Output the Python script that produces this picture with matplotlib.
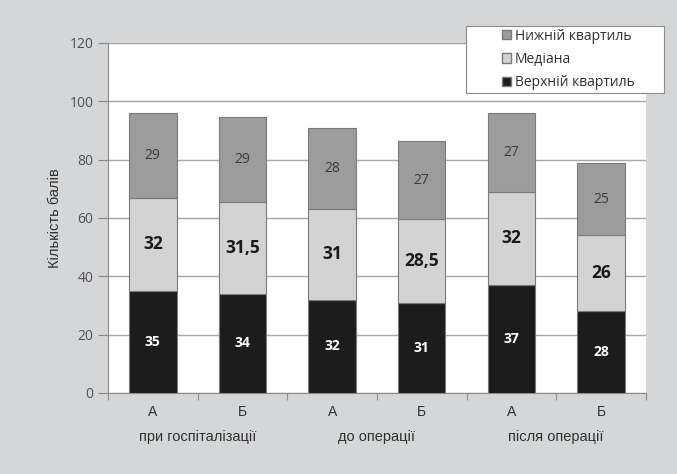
import numpy as np
import matplotlib
matplotlib.use('Agg')
import matplotlib.pyplot as plt
from matplotlib.patches import Patch, Rectangle

groups = ['при госпіталізації', 'до операції', 'після операції']
subgroups = ['А', 'Б', 'А', 'Б', 'А', 'Б']
upper_q = [35, 34, 32, 31, 37, 28]
median = [32, 31.5, 31, 28.5, 32, 26]
lower_q = [29, 29, 28, 27, 27, 25]
series_names = ['Верхній квартиль', 'Медіана', 'Нижній квартиль']

def fmt(v):
    s = ('%g' % v).replace('.', ',')
    return s

bg = '#d5d6d8'
fig = plt.figure(figsize=(6.77, 4.74), dpi=100, facecolor=bg)
ax = fig.add_axes([0.1595, 0.1709, 0.954 - 0.1595, 0.9093 - 0.1709])
ax.set_facecolor('white')

x = np.arange(len(subgroups))
w = 0.53
ec = '#7a7a7a'
b1 = ax.bar(x, upper_q, w, color='#1c1c1c', edgecolor=ec, linewidth=0.8, zorder=3)
b2 = ax.bar(x, median, w, bottom=upper_q, color='#d3d3d3', edgecolor=ec, linewidth=0.8, zorder=3)
bot3 = np.array(upper_q) + np.array(median)
b3 = ax.bar(x, lower_q, w, bottom=bot3, color='#9c9c9c', edgecolor=ec, linewidth=0.8, zorder=3)

num_font = 'Open Sans'
for i in range(len(x)):
    ax.text(x[i], upper_q[i] / 2, fmt(upper_q[i]), ha='center', va='center',
            color='white', fontsize=10, fontweight='bold', family=num_font, zorder=4)
    ax.text(x[i], upper_q[i] + median[i] / 2, fmt(median[i]), ha='center', va='center',
            color='#1a1a1a', fontsize=12.5, fontweight='bold', family=num_font, zorder=4)
    ax.text(x[i], bot3[i] + lower_q[i] / 2, fmt(lower_q[i]), ha='center', va='center',
            color='#3a3a3a', fontsize=10, family=num_font, zorder=4)

ax.set_xlim(-0.5, len(x) - 0.5)
ax.set_ylim(0, 120)
ax.set_yticks(np.arange(0, 121, 20))
ax.yaxis.grid(True, color='#a8a8a8', linewidth=1.0, zorder=0)
ax.set_axisbelow(True)
for lab in ax.get_yticklabels():
    lab.set_family(num_font)
ax.tick_params(axis='y', colors='#8a8a8a', labelcolor='#505050', labelsize=10, length=7, width=0.8)

ax.set_xticks(x)
ax.set_xticklabels(subgroups, family='Liberation Sans', fontsize=10, color='#303030')
ax.set_xticks(np.arange(-0.5, len(x), 1), minor=True)
ax.tick_params(axis='x', which='major', length=0, pad=9)
ax.tick_params(axis='x', which='minor', length=5, color='#8a8a8a', width=0.8)

for i, g in enumerate(groups):
    ax.text(2 * i + 0.5, -0.127, g, transform=ax.get_xaxis_transform(), ha='center', va='center',
            family='Liberation Sans', fontsize=10.5, color='#303030')

for s in ['top', 'right']:
    ax.spines[s].set_visible(False)
ax.spines['left'].set_color('#8a8a8a')
ax.spines['bottom'].set_color('#8a8a8a')

ax.set_ylabel('Кількість балів', family='Liberation Sans', fontsize=10.5, color='#303030', labelpad=5)

# legend box
bx0, by0, bw, bh = 466 / 677, 1 - 93 / 474, 198 / 677, 67 / 474
fig.patches.append(Rectangle((bx0, by0), bw, bh, transform=fig.transFigure,
                             facecolor='white', edgecolor='#8a8a8a', linewidth=0.8, zorder=5))
handles = [Patch(facecolor='#9c9c9c', edgecolor=ec, label=series_names[2]),
           Patch(facecolor='#d3d3d3', edgecolor=ec, label=series_names[1]),
           Patch(facecolor='#1c1c1c', edgecolor=ec, label=series_names[0])]
leg = fig.legend(handles=handles, loc='center', bbox_to_anchor=(bx0 + bw / 2 + 0.005, by0 + bh / 2),
                 frameon=False, prop={'family': num_font, 'size': 10},
                 handlelength=0.65, handleheight=0.65, handletextpad=0.3, borderpad=0,
                 labelspacing=0.6, borderaxespad=0)
leg.set_zorder(6)
for t in leg.get_texts():
    t.set_color('#303030')

fig.savefig('out.png', dpi=100, facecolor=bg)
